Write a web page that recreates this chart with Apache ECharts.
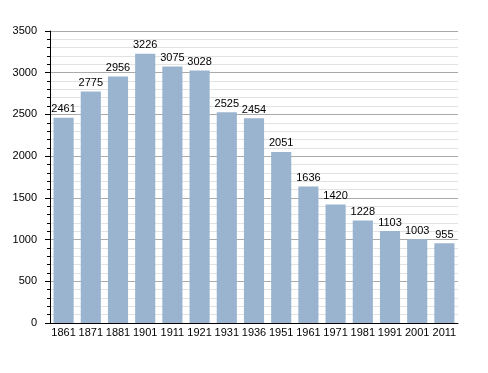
<!DOCTYPE html>
<html><head><meta charset="utf-8">
<script src="https://cdn.jsdelivr.net/npm/echarts@6/dist/echarts.min.js"></script>
<style>html,body{margin:0;padding:0;background:#fff}#c{width:488px;height:373px}</style>
</head><body><div id="c"></div>
<script>
const years = ['1861','1871','1881','1901','1911','1921','1931','1936','1951','1961','1971','1981','1991','2001','2011'];
const population = [2461,2775,2956,3226,3075,3028,2525,2454,2051,1636,1420,1228,1103,1003,955];
const yTicks = {min:0, max:3500, interval:500};
const chart = echarts.init(document.getElementById('c'));
chart.setOption({
  animation:false,
  grid:{left:50,right:30,top:31,bottom:50},
  xAxis:{type:'category',data:years,
    axisLine:{lineStyle:{color:'#000',width:1}},
    axisTick:{show:false},
    axisLabel:{color:'#000',fontFamily:'Liberation Sans',fontSize:11,margin:4,interval:0}},
  yAxis:{type:'value',min:yTicks.min,max:yTicks.max,interval:yTicks.interval,
    axisLine:{show:true,lineStyle:{color:'#000'}},
    axisTick:{show:true,length:5,lineStyle:{color:'#000'}},
    minorTick:{show:true,splitNumber:5,length:3,lineStyle:{color:'#000'}},
    splitLine:{lineStyle:{color:'#aaa'}},
    minorSplitLine:{show:true,lineStyle:{color:'#e2e2e2'}},
    axisLabel:{color:'#000',fontFamily:'Liberation Sans',fontSize:11,margin:13,formatter:v=>String(v)}},
  series:[{type:'bar',data:population,barCategoryGap:'26%',
    itemStyle:{color:'#9ab3cf'},
    label:{show:true,position:'top',distance:3,color:'#000',fontFamily:'Liberation Sans',fontSize:11}}]
});
</script></body></html>
